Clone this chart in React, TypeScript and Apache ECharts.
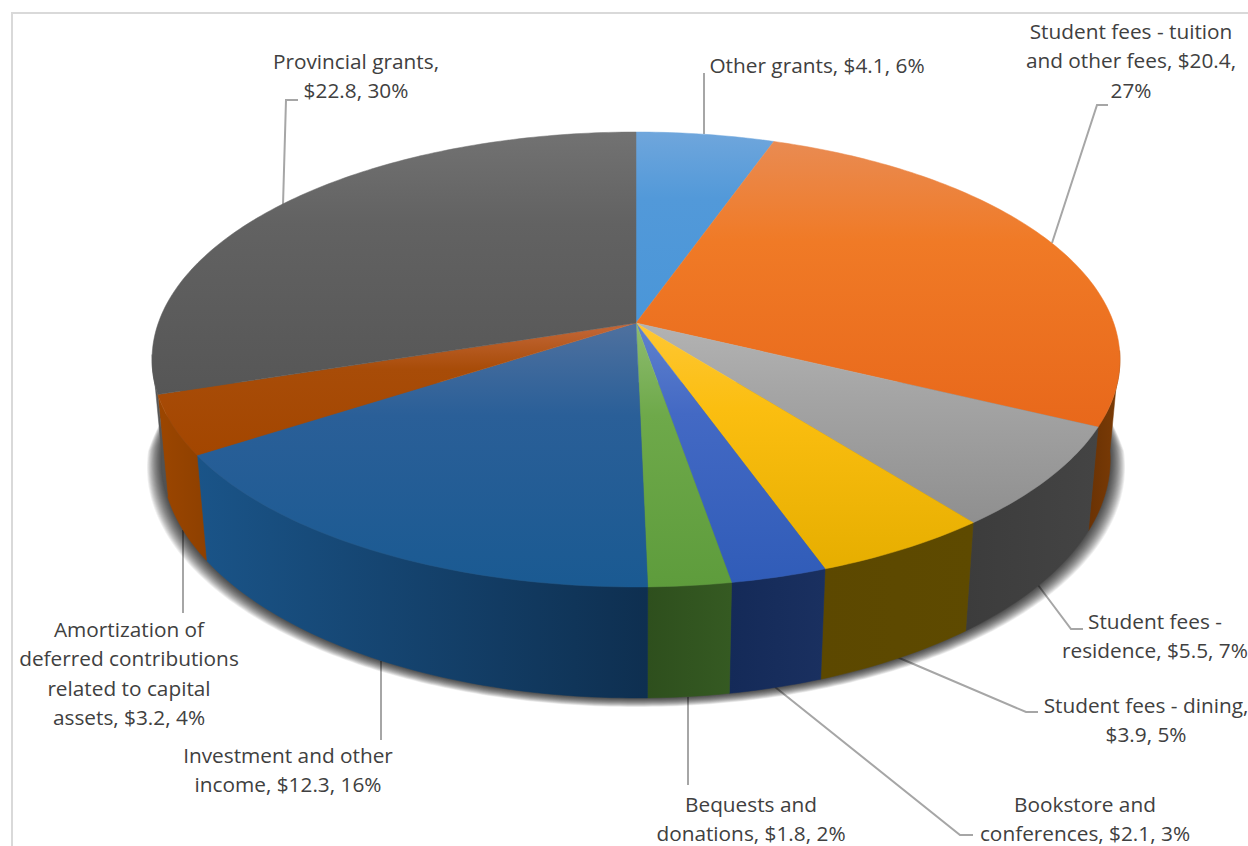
import React, { useEffect, useRef } from "react";
import * as echarts from "echarts";

// Revenue sources, in millions of dollars, clockwise from twelve o'clock.
const categories = [
  "Other grants",
  "Student fees - tuition and other fees",
  "Student fees - residence",
  "Student fees - dining",
  "Bookstore and conferences",
  "Bequests and donations",
  "Investment and other income",
  "Amortization of deferred contributions related to capital assets",
  "Provincial grants",
];
const values = [4.1, 20.4, 5.5, 3.9, 2.1, 1.8, 12.3, 3.2, 22.8];
const percents = [6, 27, 7, 5, 3, 2, 16, 4, 30];

// How each category's label breaks over its lines.
const labelLines = [
  ["Other grants, $4.1, 6%"],
  ["Student fees - tuition", "and other fees, $20.4,", "27%"],
  ["Student fees -", "residence, $5.5, 7%"],
  ["Student fees - dining,", "$3.9, 5%"],
  ["Bookstore and", "conferences, $2.1, 3%"],
  ["Bequests and", "donations, $1.8, 2%"],
  ["Investment and other", "income, $12.3, 16%"],
  ["Amortization of", "deferred contributions", "related to capital", "assets, $3.2, 4%"],
  ["Provincial grants,", "$22.8, 30%"],
];

// Label anchors: centre x and the middle y of the first line.
const labelCentres: [number, number][] = [
  [817, 65], [1131, 31], [1155, 621], [1146, 705], [1085, 804],
  [751, 804], [288, 755], [129, 629], [356, 61],
];
const LINE_HEIGHT = 29.4;

// Leader lines from the disc to each label.
const leaders: [number, number][][] = [
  [[704, 134], [704, 73]],
  [[1052, 243], [1097, 105], [1108, 105]],
  [[1038, 585], [1071, 629], [1083, 629]],
  [[897, 657], [1026, 712], [1038, 712]],
  [[775, 687], [960, 835], [973, 835]],
  [[688, 697], [688, 785]],
  [[381, 661], [381, 740]],
  [[183, 530], [183, 613]],
  [[283, 205], [286, 100], [298, 100]],
];

// Top-face gradient per slice: [upper, middle, lower].
const topColours = [
  ["#6FA6DC", "#5299D9", "#4A96D8"],
  ["#E98B52", "#F07A26", "#E8681B"],
  ["#B3B3B3", "#A5A5A5", "#8F8F8F"],
  ["#FEC734", "#FBBE10", "#E6AE00"],
  ["#6082CE", "#4369C4", "#305CB8"],
  ["#8FBC70", "#6EA94A", "#5E9C3C"],
  ["#4F719F", "#2A5F98", "#1A5A92"],
  ["#C4683A", "#A84C08", "#A34600"],
  ["#727272", "#626262", "#565656"],
];
// Side-wall gradient per slice: [left colour, right colour].
const wallColours = [
  ["#4A7FB5", "#3A6A9A"],
  ["#6A3204", "#7C3C06"],
  ["#3C3C3C", "#444444"],
  ["#5C4800", "#5E4A00"],
  ["#142A58", "#1A3060"],
  ["#2E4F1D", "#355A22"],
  ["#1A5488", "#0E2F50"],
  ["#9C4600", "#8E4000"],
  ["#5A5A5A", "#505050"],
];

// Perspective mapping of a unit circle to the page; h = 0 is the top face, h = 1 the base.
const CX = 636;
const SCALE_X = 477.7;
const Y_SLOPE = -169.8;
const Y_APEX = 323;
const PERSPECTIVE = 0.1604;
const DEPTH_W = 0.02;
const DEPTH_Y = 107.2;
const deg = (d: number) => (d * Math.PI) / 180;
// The rim can only be seen between these angles; behind them the top face hides it.
const WALL_FROM = deg(97);
const WALL_TO = deg(262);
// The cast shadow is a stack of translucent outlines around the front of the base,
// tapering to nothing where it passes behind the top face.
const SHADOW_FROM = deg(80);
const SHADOW_TO = deg(280);
const SHADOW_TAPER = deg(15);
const SHADOW_SPREAD_X = 15;
const SHADOW_SPREAD_Y = 9;
const SHADOW_LAYER_ALPHA = 0.06;
const shadowLayers = [18, 17, 16, 15, 14, 13, 12, 11, 10, 9, 8, 7, 6, 5, 4, 3, 2, 1];

function project(theta: number, h: number): number[] {
  const u = Math.sin(theta);
  const v = Math.cos(theta);
  const w = 1 + PERSPECTIVE * v + DEPTH_W * h;
  return [CX + (SCALE_X * u) / w, (Y_SLOPE * v + Y_APEX + DEPTH_Y * h) / w];
}

const total = values.reduce((s, v) => s + v, 0);

function sliceAngles(i: number): [number, number] {
  let before = 0;
  for (let k = 0; k < i; k++) before += values[k];
  return [
    (before / total) * Math.PI * 2,
    ((before + values[i]) / total) * Math.PI * 2,
  ];
}

function arc(a0: number, a1: number, h: number): number[][] {
  const steps = Math.max(6, Math.ceil((a1 - a0) * 60));
  const pts: number[][] = [];
  for (let s = 0; s <= steps; s++) {
    pts.push(project(a0 + ((a1 - a0) * s) / steps, h));
  }
  return pts;
}

const gradient = (stops: string[], horizontal: boolean) =>
  new echarts.graphic.LinearGradient(
    0,
    0,
    horizontal ? 1 : 0,
    horizontal ? 0 : 1,
    stops.map((color, k) => ({
      offset: stops.length === 3 && k === 1 ? 0.35 : k / (stops.length - 1),
      color,
    }))
  );

const renderShadow = (params: any) => {
  const layer = shadowLayers[params.dataIndex] / shadowLayers.length;
  const steps = 240;
  const points: number[][] = [];
  for (let s = 0; s <= steps; s++) {
    const t = SHADOW_FROM + ((SHADOW_TO - SHADOW_FROM) * s) / steps;
    const taper = Math.min(1, (t - SHADOW_FROM) / SHADOW_TAPER, (SHADOW_TO - t) / SHADOW_TAPER);
    const [x, y] = project(t, 1);
    points.push([
      x + Math.sin(t) * SHADOW_SPREAD_X * layer * taper,
      y + SHADOW_SPREAD_Y * layer * taper,
    ]);
  }
  return {
    type: "polygon",
    silent: true,
    shape: { points },
    style: { fill: `rgba(0,0,0,${SHADOW_LAYER_ALPHA})` },
  };
};

const renderWall = (params: any) => {
  const i = params.dataIndex;
  const [s0, s1] = sliceAngles(i);
  const a0 = Math.max(s0, WALL_FROM);
  const a1 = Math.min(s1, WALL_TO);
  if (a1 <= a0) return null;
  const fill = gradient(wallColours[i], true);
  return {
    type: "polygon",
    silent: true,
    shape: { points: [...arc(a0, a1, 0), ...arc(a0, a1, 1).reverse()] },
    style: { fill, stroke: fill, lineWidth: 0.5 },
  };
};

const renderTop = (params: any) => {
  const i = params.dataIndex;
  const [a0, a1] = sliceAngles(i);
  const fill = gradient(topColours[i], false);
  return {
    type: "polygon",
    silent: true,
    shape: { points: [[CX, Y_APEX], ...arc(a0, a1, 0)] },
    style: { fill, stroke: fill, lineWidth: 0.5 },
  };
};

const seriesData = categories.map((name, i) => ({ name, value: [i, values[i], percents[i]] }));

export default function App() {
  const ref = useRef<HTMLDivElement>(null);

  useEffect(() => {
    if (!ref.current) return;
    const chart = echarts.init(ref.current, null, { renderer: "svg" });

    const graphics: any[] = [
      {
        type: "polyline",
        silent: true,
        z: 1,
        shape: { points: [[12, 846], [12, 13], [1248, 13]] },
        style: { fill: "none", stroke: "#D9D9D9", lineWidth: 2 },
      },
    ];
    leaders.forEach((points) => {
      graphics.push({
        type: "polyline",
        silent: true,
        z: 1,
        shape: { points },
        style: { fill: "none", stroke: "#A6A6A6", lineWidth: 2 },
      });
    });
    labelLines.forEach((lines, i) => {
      lines.forEach((text, k) => {
        graphics.push({
          type: "text",
          silent: true,
          z: 20,
          x: labelCentres[i][0],
          y: labelCentres[i][1] + k * LINE_HEIGHT,
          style: {
            text,
            fill: "#404040",
            font: "20.8px 'Open Sans'",
            textAlign: "center",
            textVerticalAlign: "middle",
          },
        });
      });
    });

    chart.setOption({
      animation: false,
      backgroundColor: "#FFFFFF",
      graphic: graphics,
      series: [
        { type: "custom", coordinateSystem: "none", z: 2, clip: false, silent: true, data: shadowLayers, renderItem: renderShadow },
        { type: "custom", coordinateSystem: "none", z: 3, clip: false, silent: true, data: seriesData, renderItem: renderWall },
        { type: "custom", coordinateSystem: "none", z: 4, clip: false, silent: true, data: seriesData, renderItem: renderTop },
      ],
    });

    return () => chart.dispose();
  }, []);

  return (
    <div
      ref={ref}
      style={{ position: "fixed", left: 0, top: 0, width: 1248, height: 846 }}
    />
  );
}
